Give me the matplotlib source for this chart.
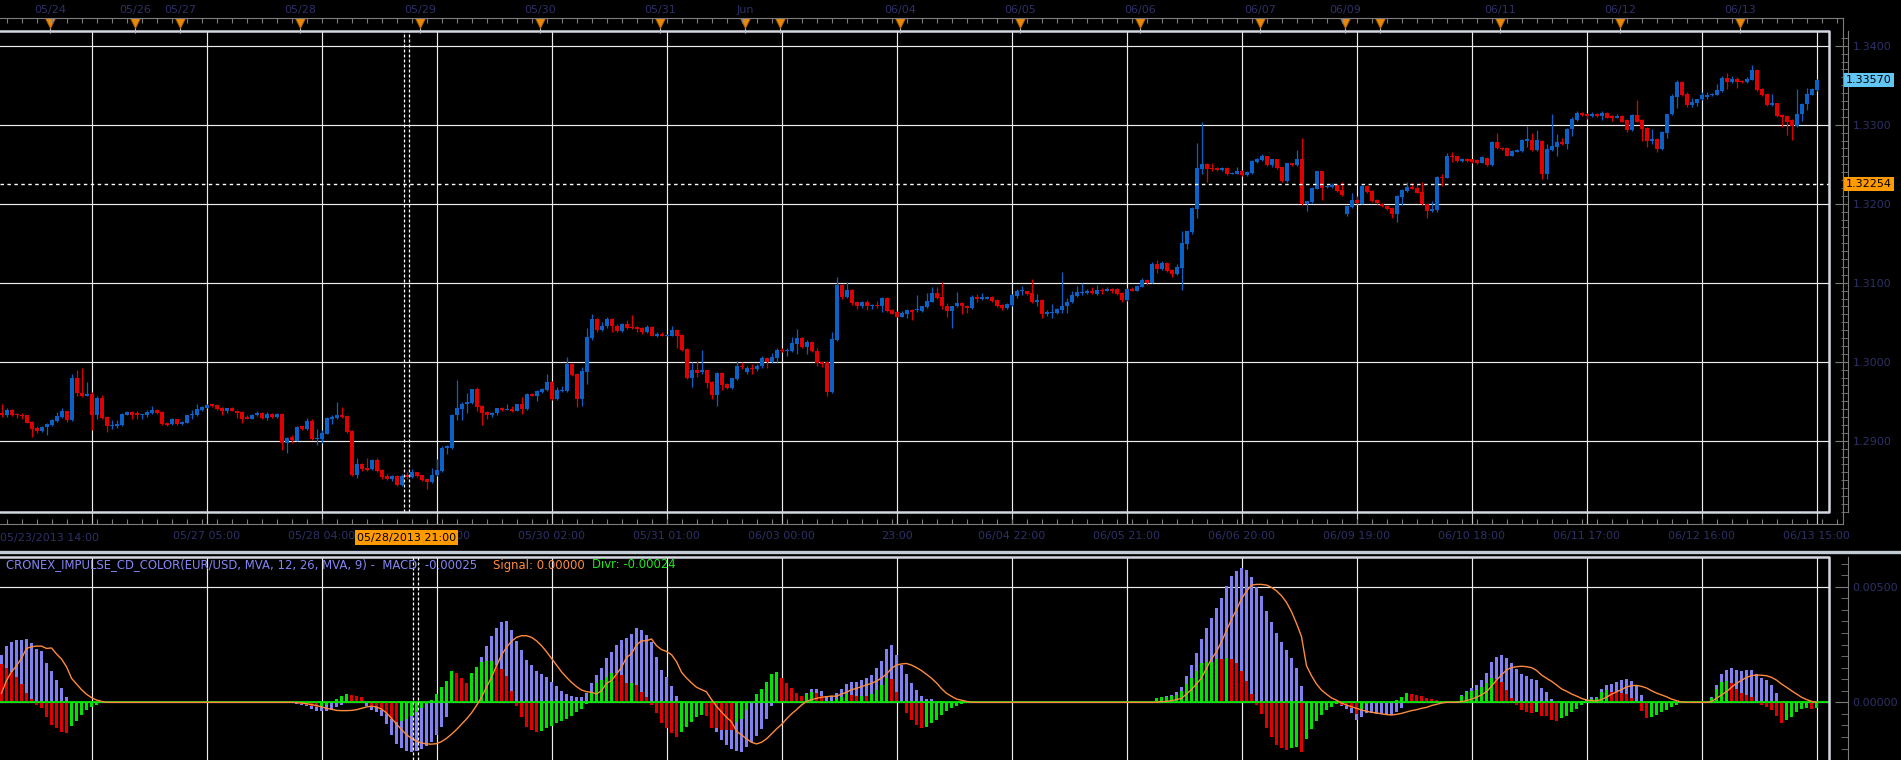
import numpy as np
import matplotlib.pyplot as plt
from matplotlib.lines import Line2D
from matplotlib.ticker import FixedLocator, MultipleLocator
from matplotlib.transforms import blended_transform_factory

# EUR/USD hourly candles, values in pips above 1.2900
opens = [
    35, 32, 39, 34, 32, 32, 24, 16, 12, 17,
    20, 25, 30, 37, 26, 79, 60, 57, 59, 32,
    54, 30, 18, 19, 20, 33, 36, 35, 32, 32,
    35, 39, 36, 23, 21, 27, 21, 23, 32, 32,
    39, 42, 46, 45, 42, 38, 41, 38, 36, 30,
    28, 32, 35, 29, 34, 30, 34, -3, 5, 0,
    18, 15, 25, 2, 2, 9, 27, 29, 32, 31,
    12, -44, -30, -34, -36, -24, -37, -45, -49, -45,
    -56, -44, -46, -40, -44, -49, -52, -44, -38, -9,
    -9, 32, 40, 46, 48, 65, 44, 36, 32, 35,
    42, 39, 40, 38, 46, 40, 59, 57, 62, 64,
    74, 53, 63, 63, 97, 84, 53, 87, 130, 154,
    140, 145, 154, 145, 139, 148, 144, 144, 143, 137,
    144, 132, 135, 133, 133, 140, 134, 116, 80, 90,
    87, 89, 74, 58, 86, 72, 67, 78, 95, 87,
    92, 91, 94, 105, 99, 105, 115, 114, 113, 123,
    130, 118, 125, 114, 100, 99, 62, 127, 197, 182,
    191, 175, 170, 175, 170, 171, 170, 181, 165, 163,
    157, 161, 166, 165, 164, 169, 176, 187, 182, 170,
    164, 170, 174, 170, 168, 182, 180, 180, 182, 178,
    172, 168, 172, 183, 189, 189, 187, 175, 178, 161,
    162, 162, 166, 170, 175, 183, 187, 187, 190, 186,
    191, 190, 192, 192, 187, 178, 192, 190, 195, 203,
    200, 224, 217, 225, 216, 211, 219, 249, 264, 293,
    344, 350, 345, 345, 343, 345, 338, 338, 342, 336,
    339, 353, 355, 360, 349, 356, 346, 329, 351, 349,
    356, 300, 302, 319, 341, 321, 321, 324, 317, 287,
    296, 305, 300, 323, 316, 305, 300, 297, 295, 287,
    309, 316, 321, 320, 315, 300, 291, 292, 334, 333,
    360, 360, 354, 357, 356, 355, 352, 358, 349, 378,
    371, 371, 361, 366, 367, 380, 381, 368, 380, 338,
    368, 372, 378, 376, 395, 406, 415, 414, 411, 414,
    411, 415, 411, 409, 411, 406, 393, 412, 406, 396,
    379, 382, 369, 390, 413, 435, 454, 439, 425, 427,
    432, 435, 437, 438, 443, 459, 454, 458, 455, 454,
    457, 469, 445, 439, 425, 427, 412, 411, 406, 398,
    413, 426, 438, 444,
]
highs = [
    46, 41, 40, 35, 35, 33, 25, 18, 18, 23,
    28, 36, 42, 38, 85, 89, 92, 74, 62, 56,
    58, 31, 26, 26, 35, 37, 37, 37, 34, 39,
    44, 40, 37, 24, 29, 28, 25, 33, 39, 46,
    44, 46, 47, 46, 43, 42, 43, 39, 37, 32,
    34, 37, 36, 36, 35, 35, 35, 5, 7, 19,
    19, 29, 27, 15, 13, 30, 33, 49, 43, 32,
    13, -22, -28, -22, -23, -22, -36, -42, -44, -44,
    -42, -40, -36, -39, -43, -47, -35, -23, -7, -5,
    34, 77, 49, 61, 66, 68, 45, 37, 36, 42,
    43, 47, 44, 47, 55, 60, 60, 64, 67, 84,
    76, 68, 69, 106, 98, 86, 93, 143, 160, 155,
    150, 156, 155, 148, 149, 153, 159, 145, 144, 146,
    145, 137, 138, 135, 145, 141, 135, 117, 100, 101,
    115, 90, 75, 87, 87, 73, 80, 101, 99, 94,
    97, 97, 107, 106, 111, 117, 117, 117, 131, 142,
    131, 128, 126, 117, 101, 101, 137, 207, 198, 201,
    192, 177, 177, 178, 173, 177, 182, 182, 167, 164,
    164, 167, 167, 185, 171, 187, 195, 195, 201, 174,
    171, 188, 176, 172, 184, 186, 187, 183, 183, 179,
    173, 174, 186, 192, 196, 190, 205, 186, 179, 166,
    173, 168, 214, 181, 189, 196, 200, 192, 194, 197,
    193, 194, 193, 193, 188, 193, 194, 197, 206, 205,
    226, 229, 228, 226, 217, 224, 265, 266, 296, 377,
    404, 352, 352, 346, 347, 346, 340, 346, 343, 341,
    355, 358, 363, 361, 357, 357, 347, 352, 352, 368,
    383, 304, 321, 342, 342, 324, 326, 325, 328, 298,
    313, 310, 324, 324, 317, 306, 301, 298, 296, 311,
    318, 328, 326, 325, 328, 301, 304, 335, 337, 364,
    366, 361, 358, 358, 357, 356, 360, 359, 379, 389,
    372, 372, 368, 369, 382, 398, 390, 393, 381, 375,
    414, 388, 383, 396, 410, 417, 416, 415, 416, 415,
    417, 416, 412, 414, 412, 407, 413, 431, 407, 397,
    395, 383, 392, 414, 439, 457, 455, 442, 434, 433,
    441, 441, 440, 452, 462, 466, 462, 461, 456, 460,
    476, 471, 446, 440, 439, 428, 413, 412, 407, 445,
    427, 446, 446, 458,
]
lows = [
    30, 30, 31, 29, 27, 22, 5, 10, 11, 7,
    19, 24, 29, 24, 25, 56, 55, 56, 14, 28,
    28, 11, 15, 16, 19, 32, 27, 27, 28, 30,
    34, 34, 20, 19, 20, 20, 20, 22, 28, 31,
    38, 41, 43, 39, 32, 35, 37, 29, 23, 27,
    27, 31, 28, 26, 29, 29, -12, -16, -3, -1,
    14, 14, 1, -6, -3, 8, 21, 28, 29, 10,
    -45, -47, -38, -38, -37, -39, -49, -50, -51, -57,
    -57, -48, -47, -46, -51, -61, -53, -45, -39, -17,
    -10, 26, 26, 35, 47, 38, 20, 27, 30, 33,
    37, 39, 36, 37, 34, 39, 56, 50, 60, 63,
    52, 52, 62, 62, 82, 43, 44, 72, 128, 137,
    139, 143, 137, 138, 138, 142, 142, 138, 135, 136,
    132, 131, 132, 132, 132, 117, 114, 78, 68, 81,
    85, 67, 53, 44, 64, 65, 66, 77, 91, 84,
    85, 88, 92, 92, 98, 100, 112, 107, 112, 110,
    117, 110, 112, 94, 93, 56, 61, 126, 180, 181,
    172, 167, 168, 166, 167, 168, 163, 163, 160, 156,
    156, 155, 153, 163, 163, 168, 175, 180, 167, 157,
    143, 169, 161, 162, 167, 176, 178, 179, 176, 169,
    166, 167, 171, 181, 184, 185, 174, 170, 155, 158,
    155, 160, 162, 162, 174, 182, 185, 186, 186, 185,
    186, 189, 187, 185, 176, 177, 189, 189, 194, 197,
    199, 212, 216, 214, 207, 210, 191, 243, 262, 282,
    337, 328, 342, 341, 342, 336, 337, 337, 335, 335,
    338, 352, 354, 348, 347, 344, 328, 327, 348, 348,
    298, 291, 301, 318, 305, 320, 320, 315, 310, 285,
    295, 300, 299, 314, 302, 300, 296, 292, 282, 277,
    298, 315, 318, 313, 298, 282, 290, 290, 323, 332,
    353, 353, 353, 353, 352, 350, 351, 348, 348, 369,
    368, 360, 360, 365, 366, 372, 367, 367, 331, 331,
    367, 360, 374, 369, 386, 405, 411, 407, 410, 410,
    406, 408, 405, 408, 403, 391, 392, 403, 380, 372,
    375, 366, 368, 383, 412, 421, 436, 423, 423, 424,
    431, 432, 436, 437, 442, 445, 453, 446, 453, 453,
    456, 443, 436, 424, 424, 410, 397, 387, 381, 397,
    405, 418, 437, 443,
]
closes = [
    32, 39, 32, 32, 31, 23, 15, 12, 17, 21,
    26, 31, 37, 26, 79, 60, 57, 59, 32, 54,
    29, 18, 20, 21, 34, 36, 33, 32, 34, 36,
    39, 35, 21, 20, 27, 21, 24, 32, 33, 40,
    43, 45, 44, 40, 38, 41, 38, 35, 28, 28,
    33, 35, 29, 34, 30, 34, -3, 3, 1, 17,
    15, 25, 2, 3, 10, 29, 30, 32, 30, 11,
    -44, -30, -36, -37, -24, -38, -46, -49, -45, -56,
    -45, -46, -40, -45, -50, -52, -43, -37, -9, -7,
    32, 42, 47, 49, 65, 43, 35, 32, 35, 41,
    39, 40, 38, 46, 40, 59, 57, 63, 65, 74,
    53, 64, 64, 97, 83, 53, 88, 131, 154, 140,
    145, 154, 145, 139, 148, 143, 143, 141, 137, 144,
    133, 135, 133, 134, 140, 133, 115, 80, 90, 86,
    90, 73, 58, 86, 70, 67, 79, 95, 93, 92,
    91, 95, 105, 99, 106, 115, 113, 115, 124, 130,
    118, 125, 113, 98, 97, 62, 129, 197, 182, 191,
    174, 170, 175, 170, 171, 170, 181, 164, 161, 157,
    162, 166, 163, 166, 170, 177, 187, 181, 170, 164,
    170, 174, 170, 168, 182, 179, 181, 182, 177, 171,
    168, 173, 184, 189, 190, 186, 175, 178, 161, 163,
    163, 167, 170, 176, 184, 188, 188, 190, 187, 191,
    189, 192, 190, 186, 178, 192, 190, 196, 203, 200,
    224, 217, 225, 215, 211, 220, 250, 265, 294, 345,
    350, 344, 344, 343, 345, 338, 339, 342, 336, 340,
    354, 356, 360, 349, 356, 345, 329, 351, 349, 356,
    300, 303, 320, 341, 320, 323, 324, 316, 311, 297,
    305, 301, 323, 315, 303, 301, 297, 293, 287, 310,
    317, 321, 319, 314, 299, 291, 293, 334, 333, 360,
    359, 354, 357, 354, 353, 351, 359, 349, 378, 370,
    369, 361, 367, 368, 381, 381, 368, 381, 338, 369,
    373, 378, 376, 395, 407, 415, 412, 411, 414, 411,
    415, 409, 409, 411, 404, 393, 412, 404, 395, 379,
    382, 369, 391, 414, 436, 454, 438, 425, 429, 433,
    437, 438, 439, 444, 459, 454, 458, 454, 454, 458,
    469, 444, 438, 425, 427, 411, 410, 404, 398, 414,
    426, 439, 445, 457,
]

# CRONEX impulse CD, values in units of 0.00001
macd = [
    204, 243, 262, 269, 269, 272, 255, 230, 220, 168,
    137, 96, 60, 22, 0, 0, 0, 0, 0, 0,
    0, 0, 0, 0, 0, 0, 0, 0, 0, 0,
    0, 0, 0, 0, 0, 0, 0, 0, 0, 0,
    0, 0, 0, 0, 0, 0, 0, 0, 0, 0,
    0, 0, 0, 0, 0, 0, 0, 0, -3, -6,
    -10, -17, -27, -36, -39, -37, -33, -20, -10, 0,
    -3, -4, -4, -17, -32, -42, -60, -96, -141, -180,
    -197, -212, -216, -212, -202, -187, -170, -143, -105, -62,
    -3, 7, 9, 10, 79, 140, 197, 242, 288, 320,
    348, 353, 314, 266, 226, 183, 163, 137, 122, 108,
    89, 71, 50, 36, 29, 24, 24, 39, 82, 118,
    147, 190, 219, 248, 269, 276, 295, 323, 312, 291,
    262, 197, 140, 108, 72, 27, 0, 0, 0, 0,
    0, -14, -101, -130, -161, -184, -203, -209, -213, -192,
    -170, -144, -115, -72, -16, 14, 10, 13, 10, 10,
    16, 40, 58, 59, 50, 29, 29, 39, 58, 79,
    86, 86, 96, 104, 118, 147, 180, 229, 248, 204,
    161, 121, 85, 52, 27, 16, 13, 7, 4, 3,
    0, 0, 0, 0, 0, 0, 0, 0, 0, 0,
    0, 0, 0, 0, 0, 0, 0, 0, 0, 0,
    0, 0, 0, 0, 0, 0, 0, 0, 0, 0,
    0, 0, 0, 0, 0, 0, 0, 0, 0, 0,
    0, 17, 24, 29, 33, 43, 65, 115, 161, 215,
    274, 320, 363, 406, 449, 503, 546, 569, 583, 572,
    543, 500, 458, 395, 348, 298, 262, 226, 193, 150,
    71, 0, 0, 0, 0, 0, 0, 0, -14, -29,
    -45, -76, -62, -45, -48, -50, -50, -55, -55, -40,
    -23, -3, -1, 0, 1, -1, 0, 1, 3, 0,
    0, 6, 30, 50, 63, 75, 98, 128, 176, 196,
    206, 193, 168, 143, 122, 114, 102, 98, 60, 43,
    14, -6, -9, -12, -7, -1, 7, 13, 23, 23,
    58, 75, 79, 88, 96, 101, 92, 69, 32, -4,
    -12, -13, -10, -9, -4, -3, -3, 0, 0, 0,
    0, 0, 23, 75, 121, 138, 147, 140, 134, 138,
    138, 121, 105, 96, 75, 39, -9, -10, -12, -7,
    -9, -12, -24, -25,
]
signal = [
    39, 94, 132, 158, 190, 233, 240, 243, 243, 233,
    235, 209, 187, 154, 104, 79, 55, 35, 20, 10,
    4, 0, 0, 0, 0, 0, 0, 0, 0, 0,
    0, 0, 0, 0, 0, 0, 0, 0, 0, 0,
    0, 0, 0, 0, 0, 0, 0, 0, 0, 0,
    0, 0, 0, 0, 0, 0, 0, 0, 0, -1,
    -3, -6, -10, -14, -20, -26, -30, -35, -36, -36,
    -35, -32, -26, -20, -17, -20, -29, -46, -69, -94,
    -118, -140, -156, -168, -176, -180, -181, -179, -170, -156,
    -138, -118, -95, -72, -46, -14, 22, 65, 108, 158,
    204, 238, 264, 281, 288, 288, 281, 266, 245, 219,
    190, 161, 132, 108, 86, 68, 53, 46, 43, 36,
    50, 82, 94, 122, 151, 194, 210, 248, 266, 266,
    274, 245, 228, 220, 206, 176, 130, 105, 84, 65,
    55, 45, 12, -17, -42, -65, -84, -125, -141, -158,
    -173, -180, -173, -158, -137, -115, -96, -72, -50, -32,
    -12, 4, 12, 17, 22, 24, 27, 26, 36, 43,
    55, 60, 68, 75, 82, 92, 105, 122, 147, 161,
    166, 168, 161, 150, 137, 121, 104, 84, 59, 39,
    26, 14, 9, 4, 0, 0, 0, 0, 0, 0,
    0, 0, 0, 0, 0, 0, 0, 0, 0, 0,
    0, 0, 0, 0, 0, 0, 0, 0, 0, 0,
    0, 0, 0, 0, 0, 0, 0, 0, 0, 0,
    0, 0, 3, 4, 7, 12, 17, 36, 55, 79,
    105, 147, 187, 219, 262, 310, 359, 400, 448, 480,
    507, 510, 510, 507, 497, 482, 461, 432, 392, 341,
    284, 158, 115, 79, 53, 35, 19, 9, -3, -12,
    -19, -26, -33, -39, -43, -46, -50, -53, -55, -52,
    -48, -42, -36, -32, -26, -22, -14, -9, -3, 0,
    0, 0, 3, 7, 14, 22, 32, 46, 69, 96,
    118, 140, 150, 154, 156, 154, 150, 138, 118, 104,
    91, 75, 58, 48, 36, 27, 17, 10, 7, 6,
    12, 22, 35, 45, 55, 66, 72, 73, 69, 62,
    50, 40, 32, 24, 14, 7, 1, 0, 0, 0,
    0, 0, 3, 17, 32, 46, 65, 82, 95, 108,
    115, 118, 117, 115, 108, 96, 79, 65, 50, 36,
    22, 12, 4, 0,
]
divr = [
    166, 150, 130, 111, 79, 39, 14, -13, -23, -65,
    -98, -112, -127, -132, -104, -79, -55, -35, -20, -10,
    -4, 0, 0, 0, 0, 0, 0, 0, 0, 0,
    0, 0, 0, 0, 0, 0, 0, 0, 0, 0,
    0, 0, 0, 0, 0, 0, 0, 0, 0, 0,
    0, 0, 0, 0, 0, 0, 0, 0, -3, -4,
    -7, -12, -17, -22, -19, -12, -3, 14, 26, 36,
    32, 27, 22, 3, -14, -22, -32, -50, -72, -86,
    -79, -72, -60, -43, -26, -7, 12, 36, 65, 94,
    135, 125, 104, 82, 125, 154, 176, 177, 180, 161,
    144, 115, 50, -14, -62, -105, -118, -130, -122, -111,
    -101, -91, -82, -72, -58, -43, -29, -7, 39, 82,
    96, 108, 125, 125, 118, 82, 85, 75, 46, 24,
    -12, -48, -88, -112, -134, -148, -130, -105, -84, -65,
    -55, -59, -112, -112, -120, -120, -120, -84, -72, -33,
    3, 36, 58, 86, 121, 130, 107, 85, 60, 42,
    27, 36, 46, 42, 29, 4, 1, 13, 22, 36,
    32, 26, 29, 29, 36, 55, 75, 107, 101, 43,
    -4, -48, -76, -98, -109, -105, -91, -76, -55, -36,
    -26, -14, -9, -4, 0, 0, 0, 0, 0, 0,
    0, 0, 0, 0, 0, 0, 0, 0, 0, 0,
    0, 0, 0, 0, 0, 0, 0, 0, 0, 0,
    0, 0, 0, 0, 0, 0, 0, 0, 0, 0,
    0, 17, 22, 24, 26, 32, 48, 79, 107, 135,
    168, 173, 176, 187, 187, 193, 187, 168, 135, 92,
    36, -10, -52, -112, -148, -184, -199, -206, -199, -192,
    -213, -158, -115, -79, -53, -35, -19, -9, -12, -17,
    -26, -50, -29, -6, -4, -4, 0, -1, 0, 12,
    24, 39, 35, 32, 27, 20, 14, 10, 6, 0,
    0, 6, 27, 43, 49, 53, 66, 82, 107, 99,
    88, 53, 19, -12, -33, -40, -48, -40, -58, -60,
    -76, -81, -66, -59, -43, -29, -10, 3, 16, 17,
    46, 53, 45, 43, 42, 35, 20, -4, -37, -66,
    -62, -53, -42, -33, -19, -10, -4, 0, 0, 0,
    0, 0, 20, 58, 89, 92, 82, 58, 39, 30,
    23, 3, -12, -19, -33, -58, -88, -75, -62, -43,
    -30, -23, -29, -24,
]

grid_idx = [18, 41, 64, 87, 110, 133, 156, 179, 202, 225, 248, 271, 294, 317, 340, 363]
time_labels = ['', '05/27 05:00', '05/28 04:00', '05/29 03:00', '05/30 02:00', '05/31 01:00',
               '06/03 00:00', '23:00', '06/04 22:00', '06/05 21:00', '06/06 20:00',
               '06/09 19:00', '06/10 18:00', '06/11 17:00', '06/12 16:00', '06/13 15:00']
first_time = (9.5, '05/23/2013 14:00')
day_idx = [10, 27, 36, 60, 84, 108, 132, 149, 156, 180, 204, 228, 252, 269, 276, 300, 324, 348]
day_labels = ['05/24', '05/26', '05/27', '05/28', '05/29', '05/30', '05/31', 'Jun', '',
              '06/04', '06/05', '06/06', '06/07', '06/09', '', '06/11', '06/12', '06/13']
price_ticks = [1.29, 1.30, 1.31, 1.32, 1.33, 1.34]
last_price = 1.33570
line_price = 1.32254
cursor_idx = 81
cursor_label = '05/28/2013 21:00'

n = len(closes)
assert len(opens) == len(highs) == len(lows) == n == 364
assert len(macd) == len(signal) == len(divr) == n

W, H = 1901, 760
GRID = '#ececec'
FRAME = '#d3d7df'
AXIS = '#7c7c7c'
LABEL = '#2e3068'
BLUE = '#0a62c6'
RED = '#e00000'
PURPLE = '#8080f0'
GREEN = '#00e400'
ORANGE = '#ff8a3d'

plt.rcParams['font.family'] = 'DejaVu Sans'
plt.rcParams['font.size'] = 8

fig = plt.figure(figsize=(W / 100, H / 100), dpi=100, facecolor='black')


def box(x0, y0, x1, y1):
    return [x0 / W, 1 - y1 / H, (x1 - x0) / W, (y1 - y0) / H]


def idx_lim(width_px):
    return (-1.5 / 5, (width_px - 1.5) / 5)


ax = fig.add_axes(box(0, 31, 1829, 512), facecolor='black')
axm = fig.add_axes(box(0, 557, 1829, 760), facecolor='black')
top_rule = fig.add_axes(box(0, 17, 1843, 18))
bot_rule = fig.add_axes(box(0, 524, 1843, 525))


def fy(ypx):  # pixel row -> price axes fraction
    return (512 - ypx) / 481


# ---- price panel ----
x = np.arange(n)
o = 1.29 + np.array(opens) / 10000
c = 1.29 + np.array(closes) / 10000
hi = 1.29 + np.maximum(np.array(highs), np.maximum(opens, closes)) / 10000
lo = 1.29 + np.minimum(np.array(lows), np.minimum(opens, closes)) / 10000
cols = np.where(c >= o, BLUE, RED)
ax.vlines(x, lo, hi, colors=cols, lw=0.9, zorder=3)
ax.bar(x, np.maximum(np.abs(c - o), 0.00013), bottom=np.minimum(o, c), width=0.8,
       color=cols, lw=0, zorder=4)

ax.set_xlim(idx_lim(1829))
ax.set_ylim(1.29 - 71.3 / 7900, 1.34 + 14.7 / 7900)
ax.set_axisbelow(True)
ax.set_xticks(grid_idx, time_labels)
ax.set_yticks(price_ticks, ['%.4f' % p for p in price_ticks])
ax.yaxis.set_minor_locator(MultipleLocator(0.001))
ax.grid(True, which='major', color=GRID, lw=0.85)
for s in ['top', 'left', 'bottom']:
    ax.spines[s].set_visible(False)
ax.yaxis.tick_right()
ax.spines['right'].set_position(('outward', 14))
ax.spines['right'].set_color(AXIS)
ax.tick_params(axis='y', which='major', direction='in', length=9.5, color=AXIS, labelcolor=LABEL, pad=3)
ax.tick_params(axis='y', which='minor', direction='in', length=5, color=AXIS)
ax.tick_params(axis='x', direction='out', length=8.6, width=0.85, color='#c8c8c8', labelcolor=LABEL, pad=5)
ax.add_line(Line2D([0, 1, 1, 0], [1, 1, 0, 0], transform=ax.transAxes, color=FRAME, lw=1.8, clip_on=False, zorder=6))

xt = ax.get_xaxis_transform()
ax.text(first_time[0], fy(538), first_time[1], transform=xt, ha='center', va='center', color=LABEL)
ax.axhline(line_price, color='white', lw=1, ls=(0, (2.5, 2.5)), zorder=5)
for dx in (-0.5, 0.5):
    ax.axvline(cursor_idx + dx, color='white', lw=0.9, ls=(0, (2.4, 1.6)), zorder=5)
ax.text(cursor_idx, fy(537.5), cursor_label, transform=xt, ha='center', va='center', color='black',
        zorder=10, bbox=dict(boxstyle='square,pad=0.2', fc='#ff9a00', ec='none'))

yt = blended_transform_factory(ax.transAxes, ax.transData)
ax.text(1846 / 1829, last_price, '%.5f' % last_price, transform=yt, ha='left', va='center',
        color='black', zorder=10, bbox=dict(boxstyle='square,pad=0.18', fc='#62c6f4', ec='none'))
ax.text(1846 / 1829, line_price, '%.5f' % line_price, transform=yt, ha='left', va='center',
        color='black', zorder=10, bbox=dict(boxstyle='square,pad=0.18', fc='#ff9a00', ec='none'))

# day markers on the top ruler
day_pos = np.array(day_idx) - 0.3
ax.vlines(day_pos, fy(33), fy(19), transform=xt, colors='#bdbdbd', lw=0.8, clip_on=False, zorder=6)
ax.plot(day_pos, [fy(23)] * len(day_pos), 'v', transform=xt, ms=7, color='#e8890c',
        mec='#a65a00', mew=0.6, clip_on=False, zorder=7)

top_rule.set_xlim(idx_lim(1843))
top_rule.set_facecolor('none')
top_rule.set_yticks([])
for s in ['top', 'left', 'right']:
    top_rule.spines[s].set_visible(False)
top_rule.spines['bottom'].set_color(AXIS)
top_rule.xaxis.set_major_locator(FixedLocator(day_pos))
top_rule.xaxis.set_major_formatter(plt.FixedFormatter(day_labels))
top_rule.xaxis.set_minor_locator(FixedLocator(np.arange(1, 368, 3)))
top_rule.tick_params(which='major', bottom=False, top=True, labeltop=True, labelbottom=False,
                     length=0, pad=1.5, labelcolor=LABEL)
top_rule.tick_params(which='minor', bottom=True, top=False, direction='out', length=3.6,
                     width=0.8, color=AXIS)

bot_rule.set_xlim(idx_lim(1843))
bot_rule.set_facecolor('none')
bot_rule.set_yticks([])
for s in ['bottom', 'left', 'right']:
    bot_rule.spines[s].set_visible(False)
bot_rule.spines['top'].set_color(AXIS)
bot_rule.xaxis.set_major_locator(FixedLocator([]))
bot_rule.xaxis.set_minor_locator(FixedLocator(np.arange(1, 368, 3)))
bot_rule.tick_params(which='minor', bottom=False, top=True, direction='out', length=3.6,
                     width=0.8, color=AXIS)

# ---- MACD panel ----
m = np.array(macd) / 1e5
s = np.array(signal) / 1e5
d = np.array(divr) / 1e5
dcol = [GREEN if i > 0 and divr[i] > divr[i - 1] else RED for i in range(n)]
axm.bar(x, m, width=0.72, color=PURPLE, lw=0, zorder=3)
axm.bar(x, d, width=0.72, color=dcol, lw=0, zorder=4)
axm.axhline(0, color=GREEN, lw=1.3, zorder=5)
axm.plot(x, s, color=ORANGE, lw=1, zorder=6)

axm.set_xlim(idx_lim(1829))
axm.set_ylim(-57.7 / 0.2312 / 1e5, 145.3 / 0.2312 / 1e5)
axm.set_axisbelow(True)
axm.set_xticks(grid_idx, [''] * len(grid_idx))
axm.set_yticks([0, 0.005], ['0.00000', '0.00500'])
axm.yaxis.set_minor_locator(MultipleLocator(0.0005))
axm.grid(True, which='major', color=GRID, lw=0.85)
for sp in ['top', 'left', 'bottom']:
    axm.spines[sp].set_visible(False)
axm.yaxis.tick_right()
axm.spines['right'].set_position(('outward', 14))
axm.spines['right'].set_color(AXIS)
axm.tick_params(axis='y', which='major', direction='in', length=9.5, color=AXIS, labelcolor=LABEL, pad=3)
axm.tick_params(axis='y', which='minor', direction='in', length=5, color=AXIS)
axm.tick_params(axis='x', length=0)
axm.add_line(Line2D([0, 1, 1], [1, 1, 0], transform=axm.transAxes, color=FRAME, lw=1.8, clip_on=False, zorder=7))
for xx in (cursor_idx + 1.3, cursor_idx + 2.3):
    axm.axvline(xx, color='white', lw=0.9, ls=(0, (2.4, 1.6)), zorder=8)

# separators and axis line
fig.add_artist(Line2D([0, 1], [1 - 551.5 / H] * 2, transform=fig.transFigure, color='#c3cbd6', lw=2.4))
fig.add_artist(Line2D([1843 / W] * 2, [1 - 18 / H, 1 - 524 / H], transform=fig.transFigure, color=AXIS, lw=0.8))

ty = 1 - 565 / H
fig.text(6 / W, ty, 'CRONEX_IMPULSE_CD_COLOR(EUR/USD, MVA, 12, 26, MVA, 9) -  MACD: -0.00025',
         color='#8585f5', va='center', fontsize=8.35)
fig.text(493 / W, ty, 'Signal: 0.00000', color='#ff8c40', va='center', fontsize=8.35)
fig.text(591.5 / W, ty, 'Divr: -0.00024', color='#1ee61e', va='center', fontsize=8.35)

fig.savefig('out.png', dpi=100, facecolor='black')
